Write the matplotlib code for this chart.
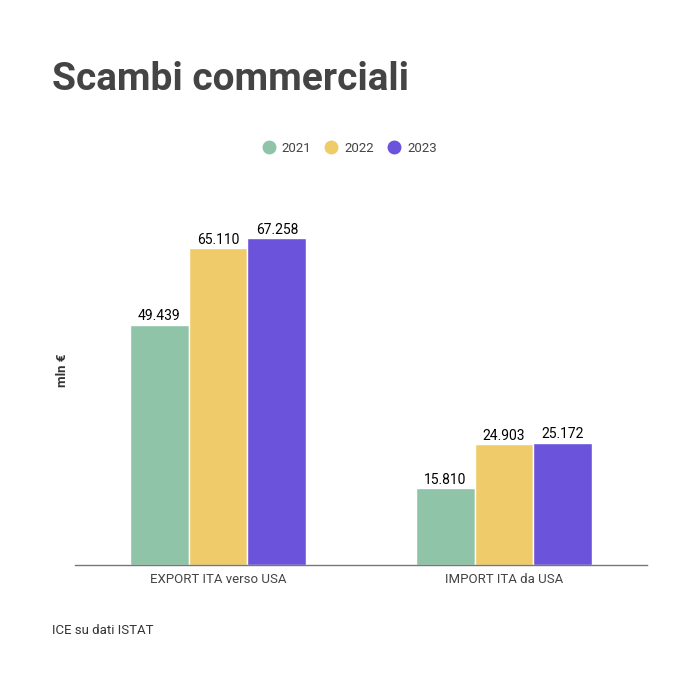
import numpy as np
import matplotlib.pyplot as plt
from matplotlib.lines import Line2D

plt.rcParams['font.family'] = ['Roboto', 'DejaVu Sans']

# dati
categorie = ["EXPORT ITA verso USA", "IMPORT ITA da USA"]
anni = ["2021", "2022", "2023"]
valori_2021 = [49439, 15810]
valori_2022 = [65110, 24903]
valori_2023 = [67258, 25172]
colori = ["#8fc4a9", "#efcb6a", "#6c53db"]

serie = [valori_2021, valori_2022, valori_2023]

fig = plt.figure(figsize=(7, 7), dpi=100)
ax = fig.add_axes([75/700, 1 - 565/700, 572/700, 365/700])

x = np.arange(len(categorie))
w = 0.206
for i, (anno, vals, col) in enumerate(zip(anni, serie, colori)):
    bars = ax.bar(x + (i - 1) * w, vals, width=w, color=col,
                  edgecolor='white', linewidth=1, label=anno)
    for b, v in zip(bars, vals):
        etichetta = f"{v:,}".replace(",", ".")
        ax.text(b.get_x() + b.get_width() / 2, v + 250, etichetta,
                ha='center', va='bottom', fontsize=10, color='black')

ax.set_xlim(-0.5, 1.5)
ax.set_ylim(0, 67258 * 365 / 327)
ax.set_xticks(x)
ax.set_xticklabels(categorie, fontsize=9.5, color='#444444')
ax.tick_params(axis='x', length=0, pad=6)
ax.set_yticks([])
for s in ['top', 'right', 'left']:
    ax.spines[s].set_visible(False)
ax.spines['bottom'].set_color('#777777')
ax.spines['bottom'].set_linewidth(1)

fig.text(63/700, 1 - 370/700, "mln €", rotation=90, ha='center', va='center',
         fontsize=9.5, fontweight='bold', color='#333333')

fig.text(52/700, 1 - 79/700, "Scambi commerciali", ha='left', va='center',
         fontsize=28, fontweight='bold', color='#444444')

# legenda
handles = [Line2D([], [], marker='o', linestyle='', markersize=9, color=c) for c in colori]
fig.legend(handles, anni, loc='center', bbox_to_anchor=(350/700, 1 - 148/700),
           ncol=3, frameon=False, fontsize=9.5, handlelength=0.8,
           handletextpad=0.6, columnspacing=1.1, labelcolor='#444444')

fig.text(52/700, 1 - 630/700, "ICE su dati ISTAT", ha='left', va='center',
         fontsize=9.5, color='#333333')

fig.savefig("out.png", dpi=100)
